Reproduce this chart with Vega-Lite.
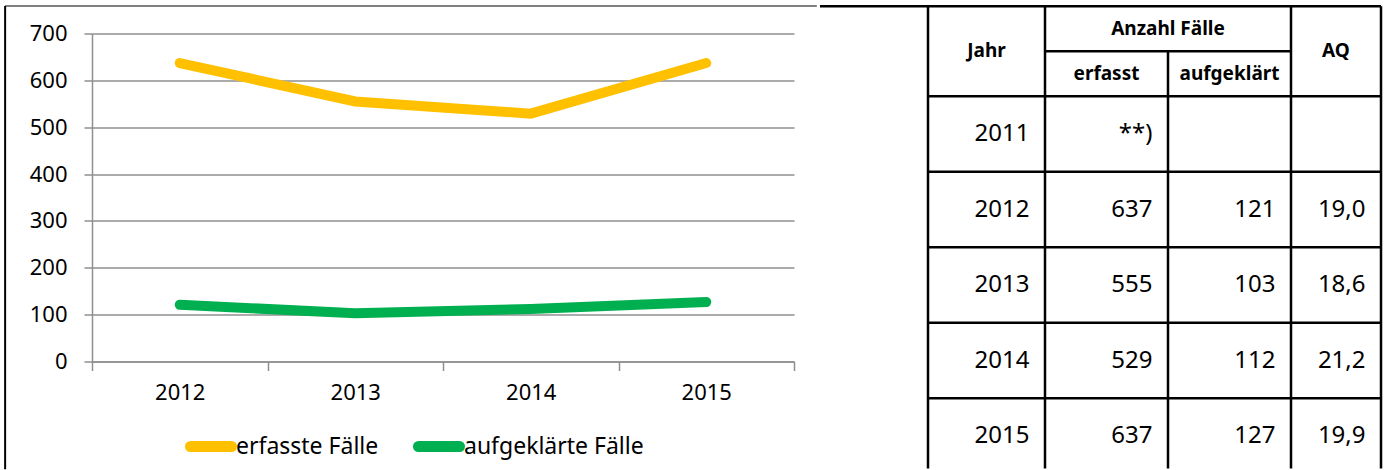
{
  "$schema": "https://vega.github.io/schema/vega-lite/v6.json",
  "padding": {"left": 4, "top": 4.5, "right": 0, "bottom": 0},
  "background": "white",
  "config": {"font": "Noto Sans", "view": {"stroke": null}, "concat": {"spacing": 0}},
  "datasets": {
    "faelle": [
      {"Jahr": "2012", "Reihe": "erfasste Fälle", "Anzahl": 637},
      {"Jahr": "2013", "Reihe": "erfasste Fälle", "Anzahl": 555},
      {"Jahr": "2014", "Reihe": "erfasste Fälle", "Anzahl": 529},
      {"Jahr": "2015", "Reihe": "erfasste Fälle", "Anzahl": 637},
      {"Jahr": "2012", "Reihe": "aufgeklärte Fälle", "Anzahl": 121},
      {"Jahr": "2013", "Reihe": "aufgeklärte Fälle", "Anzahl": 103},
      {"Jahr": "2014", "Reihe": "aufgeklärte Fälle", "Anzahl": 112},
      {"Jahr": "2015", "Reihe": "aufgeklärte Fälle", "Anzahl": 127}
    ],
    "tabelle": [
      {"Jahr": "2011", "erfasst": "**)", "aufgeklaert": "", "AQ": ""},
      {"Jahr": "2012", "erfasst": "637", "aufgeklaert": "121", "AQ": "19,0"},
      {"Jahr": "2013", "erfasst": "555", "aufgeklaert": "103", "AQ": "18,6"},
      {"Jahr": "2014", "erfasst": "529", "aufgeklaert": "112", "AQ": "21,2"},
      {"Jahr": "2015", "erfasst": "637", "aufgeklaert": "127", "AQ": "19,9"}
    ],
    "spalten": [
      {"Spalte": "Jahr", "Ende": 2},
      {"Spalte": "erfasst", "Ende": 3},
      {"Spalte": "aufgeklaert", "Ende": 4},
      {"Spalte": "AQ", "Ende": 5}
    ],
    "kopf": [
      {"Text": "Jahr", "x": 1.5, "y": 0.5},
      {"Text": "Anzahl Fälle", "x": 3, "y": 0.25},
      {"Text": "erfasst", "x": 2.5, "y": 0.75},
      {"Text": "aufgeklärt", "x": 3.5, "y": 0.75},
      {"Text": "AQ", "x": 4.5, "y": 0.5}
    ],
    "rahmen": [
      {"x1": 0, "x2": 5, "y1": 0, "y2": 0},
      {"x1": 2, "x2": 4, "y1": 0.5, "y2": 0.5},
      {"x1": 1, "x2": 5, "y1": 1, "y2": 1},
      {"x1": 1, "x2": 5, "y1": 2, "y2": 2},
      {"x1": 1, "x2": 5, "y1": 3, "y2": 3},
      {"x1": 1, "x2": 5, "y1": 4, "y2": 4},
      {"x1": 1, "x2": 5, "y1": 5, "y2": 5},
      {"x1": 1, "x2": 1, "y1": 0, "y2": 5.93},
      {"x1": 2, "x2": 2, "y1": 0, "y2": 5.93},
      {"x1": 3, "x2": 3, "y1": 0.5, "y2": 5.93},
      {"x1": 4, "x2": 4, "y1": 0, "y2": 5.93},
      {"x1": 5, "x2": 5, "y1": 0, "y2": 5.93}
    ]
  },
  "hconcat": [
    {
      "width": 702,
      "height": 328,
      "layer": [
        {
          "data": {"name": "faelle"},
          "mark": {"type": "line", "strokeWidth": 10, "strokeCap": "round"},
          "encoding": {
            "x": {
              "field": "Jahr", "type": "nominal",
              "scale": {"type": "band", "paddingInner": 0, "paddingOuter": 0},
              "axis": {
                "title": null, "tickBand": "extent", "labelAngle": 0, "grid": false,
                "labelFontSize": 22, "labelColor": "black", "labelPadding": 12,
                "tickSize": 9, "tickColor": "#8f8f8f", "tickWidth": 1.5,
                "domainColor": "#8f8f8f", "domainWidth": 1.5
              }
            },
            "y": {
              "field": "Anzahl", "type": "quantitative",
              "scale": {"domain": [0, 700], "nice": false},
              "axis": {
                "title": null, "values": [0, 100, 200, 300, 400, 500, 600, 700],
                "grid": true, "gridColor": "#8f8f8f", "gridWidth": 1.5,
                "domainColor": "#8f8f8f", "domainWidth": 1.5,
                "tickColor": "#8f8f8f", "tickWidth": 1.5, "tickSize": 8,
                "labelFontSize": 22, "labelColor": "black", "labelPadding": 17
              }
            },
            "color": {
              "field": "Reihe", "type": "nominal",
              "scale": {"domain": ["erfasste Fälle", "aufgeklärte Fälle"], "range": ["#FFC000", "#00B050"]},
              "legend": {
                "title": null, "orient": "none", "legendX": 93, "legendY": 387,
                "direction": "horizontal", "symbolType": "stroke", "symbolSize": 1681,
                "symbolStrokeWidth": 11, "labelFontSize": 23, "labelColor": "black",
                "labelOffset": -1, "columnPadding": 17, "labelLimit": 300,
                "encode": {"symbols": {"update": {"strokeCap": {"value": "round"}}}}
              }
            }
          }
        },
        {
          "data": {"values": [{}]},
          "mark": {"type": "rule", "color": "black", "strokeWidth": 2},
          "encoding": {
            "x": {"datum": -0.495, "type": "quantitative", "scale": {"domain": [0, 4], "nice": false, "zero": false}, "axis": null},
            "y": {"datum": 758.7, "type": "quantitative"},
            "y2": {"datum": -230}
          }
        },
        {
          "data": {"values": [{}]},
          "mark": {"type": "rule", "color": "black", "strokeWidth": 1},
          "encoding": {
            "x": {"datum": -0.495, "type": "quantitative", "scale": {"domain": [0, 4], "nice": false, "zero": false}, "axis": null},
            "x2": {"datum": 4.13},
            "y": {"datum": 758.7, "type": "quantitative"}
          }
        }
      ],
      "resolve": {"scale": {"x": "independent"}}
    },
    {
      "width": 561,
      "height": 434,
      "layer": [
        {
          "data": {"name": "rahmen"},
          "mark": {"type": "rule", "color": "black", "strokeWidth": 2.5},
          "encoding": {
            "x": {"field": "x1", "type": "quantitative", "scale": {"domain": [0, 1, 2, 3, 4, 5], "range": [0, 108, 225, 348, 471, 561], "nice": false, "zero": false}, "axis": null},
            "x2": {"field": "x2"},
            "y": {"field": "y1", "type": "quantitative", "scale": {"domain": [0, 1, 6], "range": [-27.25, 62.75, 440.25], "nice": false, "zero": false}, "axis": null},
            "y2": {"field": "y2"}
          }
        },
        {
          "data": {"name": "kopf"},
          "mark": {"type": "text", "fontSize": 19, "fontWeight": "bold", "align": "center", "baseline": "middle", "color": "black"},
          "encoding": {
            "x": {"field": "x", "type": "quantitative", "scale": {"domain": [0, 1, 2, 3, 4, 5], "range": [0, 108, 225, 348, 471, 561], "nice": false, "zero": false}, "axis": null},
            "y": {"field": "y", "type": "quantitative", "scale": {"domain": [0, 1, 6], "range": [-27.25, 62.75, 440.25], "nice": false, "zero": false}, "axis": null},
            "text": {"field": "Text"}
          }
        },
        {
          "data": {"name": "tabelle"},
          "transform": [
            {"fold": ["Jahr", "erfasst", "aufgeklaert", "AQ"], "as": ["Spalte", "Wert"]},
            {"lookup": "Spalte", "from": {"data": {"name": "spalten"}, "key": "Spalte", "fields": ["Ende"]}}
          ],
          "mark": {"type": "text", "fontSize": 24, "align": "right", "baseline": "middle", "dx": -15.5, "color": "black"},
          "encoding": {
            "x": {"field": "Ende", "type": "quantitative", "scale": {"domain": [0, 1, 2, 3, 4, 5], "range": [0, 108, 225, 348, 471, 561], "nice": false, "zero": false}, "axis": null},
            "y": {"field": "Jahr", "type": "nominal", "scale": {"type": "band", "domain": ["2011", "2012", "2013", "2014", "2015"], "range": [62.75, 440.25], "paddingInner": 0, "paddingOuter": 0}, "axis": null},
            "text": {"field": "Wert"}
          }
        }
      ],
      "resolve": {"scale": {"y": "independent"}}
    }
  ]
}
